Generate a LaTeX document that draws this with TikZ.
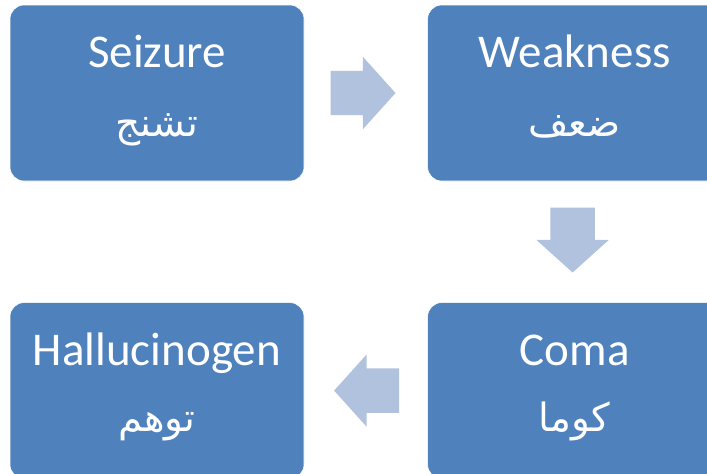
\documentclass[tikz,border=0pt]{standalone}
\usepackage{fontspec}
\setmainfont{Carlito}
\newfontfamily\arabicfont[Script=Arabic]{DejaVu Sans}
\TeXXeTstate=1
\usepackage{tikz}
\definecolor{boxblue}{RGB}{79, 129, 189}
\definecolor{arrowblue}{RGB}{177, 194, 222}
\usetikzlibrary{shapes.arrows, positioning, calc}

\begin{document}
\begin{tikzpicture}[
        stagebox/.style={rectangle, rounded corners=14pt, minimum width=294pt, minimum height=176pt, fill=boxblue, draw=white, line width=0.6pt},
        entext/.style={anchor=base, text=white, inner sep=0pt, font=\fontsize{47}{56}\selectfont},
        artext/.style={anchor=base, text=white, inner sep=0pt, font=\arabicfont\fontsize{39}{46}\selectfont},
        blockarrow/.style={single arrow, anchor=tail, fill=arrowblue, minimum height=65pt, inner xsep=0pt, inner ysep=22pt, single arrow head extend=14pt, single arrow tip angle=96}
    ]
        \useasboundingbox (0,0) rectangle (707pt,-474pt);
        \clip (0,0) rectangle (707pt,-474pt);

        % Stage boxes
        \node[stagebox] (s1) at (157pt,-93pt) {};
        \node[stagebox, right=123pt of s1] (s2) {};
        \node[stagebox, below=121pt of s2] (s3) {};
        \node[stagebox, left=123pt of s3] (s4) {};

        % Labels
        \node[entext] (s1en) at ([yshift=-63pt]s1.north) {Seizure};
        \node[artext] (s1ar) at ([yshift=-132pt]s1.north) {\beginR تشنج\endR};
        \node[entext] (s2en) at ([yshift=-63pt]s2.north) {Weakness};
        \node[artext] (s2ar) at ([yshift=-132pt]s2.north) {\beginR ضعف\endR};
        \node[entext] (s3en) at ([yshift=-63pt]s3.north) {Coma};
        \node[artext] (s3ar) at ([yshift=-129pt]s3.north) {\beginR كوما\endR};
        \node[entext] (s4en) at ([yshift=-63pt]s4.north) {Hallucinogen};
        \node[artext] (s4ar) at ([yshift=-129pt]s4.north) {\beginR توهم\endR};

        % Arrows
        \node[blockarrow] (a1) at ([xshift=26pt]s1.east) {};
        \node[blockarrow, rotate=-90] (a2) at ([xshift=-2pt, yshift=-26pt]s2.south) {};
        \node[blockarrow, rotate=180] (a3) at ([xshift=-28pt]s3.west) {};
\end{tikzpicture}
\end{document}
